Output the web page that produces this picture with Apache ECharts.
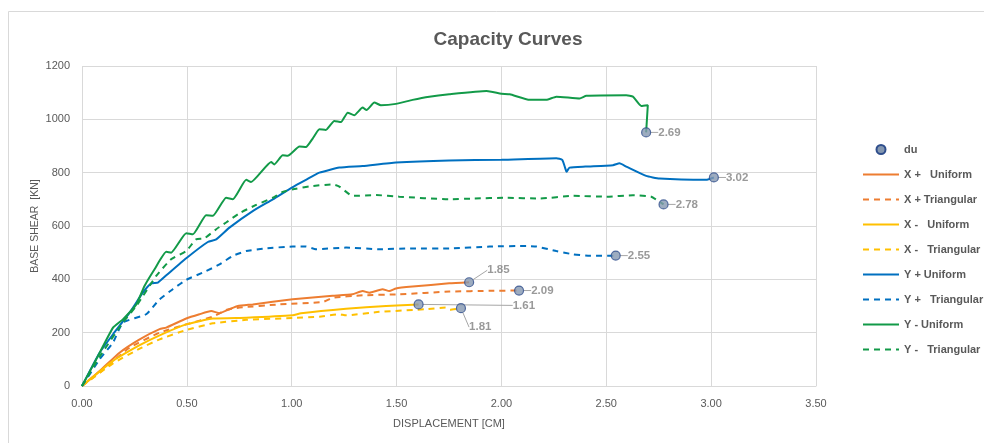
<!DOCTYPE html>
<html><head><meta charset="utf-8">
<script src="https://cdn.jsdelivr.net/npm/echarts@6/dist/echarts.min.js"></script>
<style>html,body{margin:0;padding:0;background:#fff}#c{width:984px;height:443px}</style>
</head><body><div id="c"></div>
<script>
// ---- data (displacement [cm], base shear [kN]) ----
const xPlusUniform = [[0,0],[0.084,56],[0.179,125],[0.275,175],[0.37,213],[0.402,219],[0.497,253],[0.56,269],[0.616,281],[0.656,273],[0.703,288],[0.743,300],[0.814,306],[1.005,325],[1.195,338],[1.29,344],[1.338,356],[1.37,350],[1.433,363],[1.465,356],[1.497,366],[1.576,373],[1.751,385],[1.846,389]];
const xPlusTriangular = [[0,0],[0.084,50],[0.227,144],[0.37,200],[0.497,231],[0.624,260],[0.687,285],[0.751,294],[0.941,306],[1.148,315],[1.195,331],[1.338,340],[1.513,344],[1.751,354],[1.95,357],[2.084,358]];
const xMinusUniform = [[0,0],[0.148,94],[0.275,153],[0.37,190],[0.497,231],[0.624,253],[0.783,256],[1.005,265],[1.044,273],[1.259,290],[1.45,300],[1.605,306]];
const xMinusTriangular = [[0,0],[0.148,85],[0.275,140],[0.37,175],[0.497,210],[0.624,235],[0.783,248],[1.005,255],[1.132,260],[1.227,269],[1.259,265],[1.417,278],[1.64,288],[1.735,294],[1.755,286],[1.807,292]];
const yPlusUniform = [[0,0],[0.084,125],[0.148,194],[0.227,275],[0.29,350],[0.33,385],[0.362,388],[0.402,415],[0.497,479],[0.6,540],[0.64,550],[0.703,594],[0.814,656],[0.91,700],[1.005,746],[1.068,773],[1.132,800],[1.227,819],[1.338,825],[1.497,838],[1.751,846],[2.0,848],[2.262,854],[2.29,848],[2.305,815],[2.31,803],[2.325,819],[2.4,823],[2.532,828],[2.563,835],[2.595,823],[2.69,788],[2.754,778],[2.976,773],[3.013,782]];
const yPlusTriangular = [[0,0],[0.084,100],[0.148,163],[0.195,238],[0.306,269],[0.37,325],[0.433,363],[0.497,398],[0.592,431],[0.656,456],[0.719,488],[0.783,506],[0.862,515],[1.005,523],[1.068,523],[1.116,513],[1.259,519],[1.417,513],[1.576,516],[1.751,516],[1.944,523],[2.119,525],[2.167,523],[2.262,506],[2.341,494],[2.421,488],[2.545,489]];
const yMinusUniform = [[0,0],[0.068,100],[0.148,219],[0.195,250],[0.259,306],[0.298,375],[0.346,438],[0.402,503],[0.425,500],[0.497,573],[0.529,569],[0.592,640],[0.624,638],[0.687,706],[0.719,700],[0.783,773],[0.806,765],[0.902,840],[0.917,831],[0.957,865],[0.981,863],[1.037,898],[1.068,896],[1.1,928],[1.132,963],[1.163,960],[1.203,994],[1.235,990],[1.267,1025],[1.298,1015],[1.338,1044],[1.357,1035],[1.394,1063],[1.425,1053],[1.497,1058],[1.576,1073],[1.656,1085],[1.751,1094],[1.929,1106],[2.0,1096],[2.04,1094],[2.135,1073],[2.214,1073],[2.262,1085],[2.373,1078],[2.405,1088],[2.595,1090],[2.627,1085],[2.667,1050],[2.698,1053],[2.69,951]];
const yMinusTriangular = [[0,0],[0.084,110],[0.195,238],[0.259,300],[0.354,413],[0.425,475],[0.497,506],[0.544,550],[0.584,554],[0.64,588],[0.687,613],[0.751,648],[0.83,679],[0.91,706],[0.957,728],[1.021,740],[1.1,750],[1.195,756],[1.227,748],[1.29,713],[1.402,716],[1.513,710],[1.751,700],[1.865,703],[2.024,706],[2.183,703],[2.341,713],[2.5,710],[2.627,715],[2.714,710],[2.773,681]];
const duPoints = [[2.69,951],[3.013,782],[2.773,681],[2.545,489],[1.846,389],[2.084,358],[1.605,306],[1.807,292]];
const duLabels = ['2.69','3.02','2.78','2.55','1.85','2.09','1.61','1.81'];
const xTicks = ['0.00','0.50','1.00','1.50','2.00','2.50','3.00','3.50'];
const seriesNames = ['X +   Uniform','X + Triangular','X -   Uniform','X -   Triangular','Y + Uniform','Y +   Triangular','Y - Uniform','Y -   Triangular'];

const FONT = "'Liberation Sans',sans-serif";
const ORANGE='#ED7D31', YELLOW='#FFC000', BLUE='#0070C0', GREEN='#129A48';
const curveData = [xPlusUniform,xPlusTriangular,xMinusUniform,xMinusTriangular,yPlusUniform,yPlusTriangular,yMinusUniform,yMinusTriangular];
const colors = [ORANGE,ORANGE,YELLOW,YELLOW,BLUE,BLUE,GREEN,GREEN];
const dashed = [false,true,false,true,false,true,false,true];

const series = curveData.map((d,i)=>({
  name: seriesNames[i], type:'line', data:d, showSymbol:false, symbol:'none',
  smooth:0.15, z:2,
  lineStyle:{color:colors[i], width:2, type: dashed[i]?[6,5]:'solid'},
  itemStyle:{color:colors[i]}
}));
const labelMoves = {4:{dx:6,dy:-12},6:{dx:82,dy:1},7:{dx:-4,dy:19}};
series.push({
  name:'du', type:'scatter', data: duPoints.map((p,i)=>({value:p, label:{formatter:duLabels[i]}})),
  symbolSize:9, z:5,
  itemStyle:{color:'#8497B0', borderColor:'#2F4E8C', borderWidth:1.2},
  label:{show:true, position:'right', distance:7, color:'#7F7F7F', fontFamily:FONT, fontSize:11.5, fontWeight:'bold'},
  labelLine:{show:true, lineStyle:{color:'#A6A6A6', width:1}},
  labelLayout:function(p){ const m = labelMoves[p.dataIndex]; return m?{dx:m.dx,dy:m.dy}:{}; }
});

const legendData = [{name:'du', itemStyle:{opacity:1}}].concat(seriesNames.map(n=>({name:n})));

const chart = echarts.init(document.getElementById('c'));
chart.setOption({
  animation:false,
  backgroundColor:'#fff',
  title:{text:'Capacity Curves', left:503, top:25, textAlign:'center',
    textStyle:{fontFamily:FONT, fontSize:19, fontWeight:'bold', color:'#595959'}},
  graphic:[{type:'rect', shape:{x:8.5,y:11.5,width:1200,height:600}, style:{fill:'none', stroke:'#D9D9D9', lineWidth:1}, silent:true}],
  grid:{left:82, right:168, top:66, bottom:57},
  legend:{orient:'vertical', left:857, top:139, itemWidth:36, itemHeight:9, itemGap:14,
    data:legendData, itemStyle:{opacity:0},
    textStyle:{fontFamily:FONT, fontSize:11, fontWeight:'bold', color:'#595959'}},
  xAxis:{type:'value', min:0, max:3.5, interval:0.5,
    name:'DISPLACEMENT [CM]', nameLocation:'middle', nameGap:32,
    nameTextStyle:{fontFamily:FONT, fontSize:11, color:'#595959'},
    axisLine:{show:true, lineStyle:{color:'#D9D9D9'}}, axisTick:{show:false},
    axisLabel:{fontFamily:FONT, fontSize:11, color:'#595959', margin:12, formatter:(v)=>xTicks[Math.round(v/0.5)]},
    splitLine:{show:true, lineStyle:{color:'#D9D9D9'}}},
  yAxis:{type:'value', min:0, max:1200, interval:200,
    name:'BASE SHEAR  [KN]', nameLocation:'middle', nameGap:41, nameMoveOverlap:false,
    nameTextStyle:{fontFamily:FONT, fontSize:10.5, color:'#595959'},
    axisLine:{show:false}, axisTick:{show:false},
    axisLabel:{fontFamily:FONT, fontSize:11, color:'#595959', margin:12, formatter:(v)=>String(v)},
    splitLine:{show:true, lineStyle:{color:'#D9D9D9'}}},
  series:series
});
</script></body></html>
